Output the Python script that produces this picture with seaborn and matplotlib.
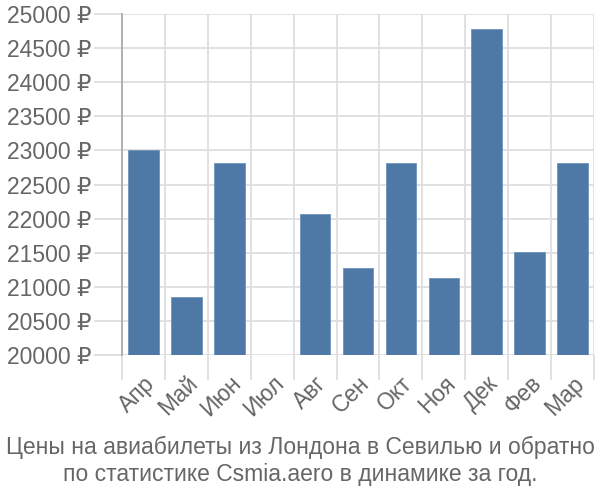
import matplotlib
matplotlib.use("Agg")
import matplotlib.pyplot as plt
import seaborn as sns
import pandas as pd
import numpy as np

months = ["Апр", "Май", "Июн", "Июл", "Авг", "Сен", "Окт", "Ноя", "Дек", "Фев", "Мар"]
prices = [23000, 20850, 22815, 20000, 22070, 21280, 22815, 21130, 24780, 21510, 22815]
yticks = list(range(20000, 25001, 500))
title_lines = ["Цены на авиабилеты из Лондона в Севилью и обратно",
               "по статистике Csmia.aero в динамике за год."]

sns.set_theme(style="white")
plt.rcParams['font.family'] = ['Liberation Sans', 'DejaVu Sans']

text_color = "#666666"
grid_color = "#dedede"

fig = plt.figure(figsize=(6, 5), dpi=100)
ax = fig.add_axes([122/600, 1-355/500, (594-122)/600, (355-14)/500])

df = pd.DataFrame({"month": months, "price": prices})
sns.barplot(data=df, x="month", y="price", color="#4e79a7", saturation=1,
            width=0.71, ax=ax, zorder=3, edgecolor="#6f93bb", linewidth=0.6)

ax.set_ylim(20000, 25000)
ax.set_xlim(-0.5, len(months) - 0.5)
ax.set_yticks(yticks)
ax.set_yticklabels([f"{v} ₽" for v in yticks], fontsize=16.5, color=text_color)
ax.tick_params(axis="y", length=20, width=1.3, color=grid_color, pad=2, left=True)

ax.set_xticks(range(len(months)))
ax.set_xticklabels(months, rotation=45, ha="right", rotation_mode="anchor",
                   fontsize=16.5, color=text_color)
ax.tick_params(axis="x", which="major", length=0, pad=12)
ax.set_xticks(np.arange(-0.5, len(months), 1), minor=True)
ax.tick_params(axis="x", which="minor", length=18, width=1.3, color=grid_color, bottom=True)

ax.grid(True, axis="y", which="major", color=grid_color, linewidth=1.3, zorder=0)
ax.grid(True, axis="x", which="minor", color=grid_color, linewidth=1.3, zorder=0)
ax.grid(False, axis="x", which="major")
ax.set_axisbelow(True)

for s in ["top", "right", "bottom"]:
    ax.spines[s].set_visible(False)
ax.spines["left"].set_color("#aaaaaa")
ax.spines["left"].set_linewidth(1.3)
ax.set_xlabel("")
ax.set_ylabel("")

fig.text(0.5, 1-447/500, title_lines[0], ha="center", va="center", fontsize=16.5, color=text_color)
fig.text(0.5, 1-475/500, title_lines[1], ha="center", va="center", fontsize=16.5, color=text_color)

fig.savefig("out.png", dpi=100)
